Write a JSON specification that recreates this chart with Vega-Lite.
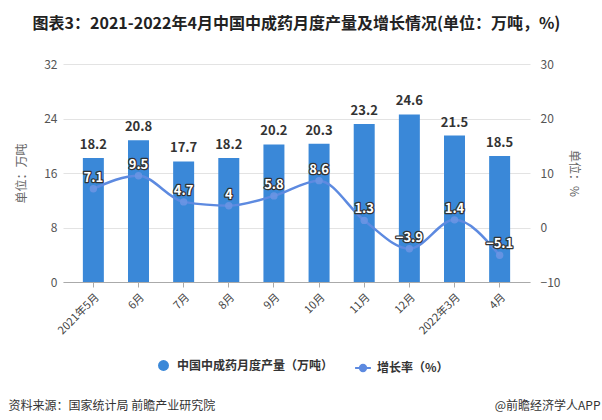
{
  "$schema": "https://vega.github.io/schema/vega-lite/v6.json",
  "autosize": "none",
  "width": 467,
  "height": 218,
  "padding": {"left": 63, "top": 64, "right": 72, "bottom": 138},
  "background": "white",
  "title": {
    "text": "图表3：2021-2022年4月中国中成药月度产量及增长情况(单位：万吨，%)",
    "font": "Noto Sans CJK SC",
    "fontSize": 16,
    "fontWeight": "bold",
    "color": "#222222",
    "anchor": "middle",
    "offset": 26
  },
  "config": {
    "font": "Noto Sans CJK SC",
    "view": {"stroke": null},
    "axis": {"labelFont": "Noto Sans CJK SC", "titleFont": "Noto Sans CJK SC"}
  },
  "data": {
    "values": [
      {"month": "2021年5月", "prod": 18.2, "growth": 7.1},
      {"month": "6月", "prod": 20.8, "growth": 9.5},
      {"month": "7月", "prod": 17.7, "growth": 4.7},
      {"month": "8月", "prod": 18.2, "growth": 4},
      {"month": "9月", "prod": 20.2, "growth": 5.8},
      {"month": "10月", "prod": 20.3, "growth": 8.6},
      {"month": "11月", "prod": 23.2, "growth": 1.3},
      {"month": "12月", "prod": 24.6, "growth": -3.9},
      {"month": "2022年3月", "prod": 21.5, "growth": 1.4},
      {"month": "4月", "prod": 18.5, "growth": -5.1}
    ]
  },
  "layer": [
    {
      "encoding": {
        "x": {
          "field": "month",
          "type": "nominal",
          "sort": null,
          "scale": {"paddingInner": 0.535, "paddingOuter": 0.44},
          "axis": {
            "title": "资料来源：国家统计局 前瞻产业研究院",
            "titleFont": "Noto Sans CJK SC",
            "titleFontSize": 12,
            "titleFontWeight": "normal",
            "titleColor": "#333333",
            "titleAnchor": "start",
            "titleAlign": "left",
            "titleBaseline": "middle",
            "titleX": -55,
            "titleY": 123,
            "labelAngle": -45,
            "labelFontSize": 11,
            "labelColor": "#444444",
            "labelPadding": 4,
            "domainColor": "#aaaaaa",
            "tickColor": "#aaaaaa",
            "tickSize": 5,
            "grid": false
          }
        }
      },
      "layer": [
        {
          "mark": {"type": "bar"},
          "encoding": {
            "y": {
              "field": "prod",
              "type": "quantitative",
              "scale": {"domain": [0, 32], "nice": false},
              "axis": {
                "title": "单位：万吨",
                "titleFontSize": 12,
                "titleFontWeight": "normal",
                "titleColor": "#666666",
                "titlePadding": 15,
                "values": [0, 8, 16, 24, 32],
                "labelFontSize": 12,
                "labelColor": "#555555",
                "labelPadding": 6,
                "ticks": false,
                "domain": false,
                "grid": true,
                "gridColor": "#e3e3e3"
              }
            },
            "fill": {
              "datum": "中国中成药月度产量（万吨）",
              "scale": {"range": ["#3a88d8"]},
              "legend": {
                "orient": "none",
                "legendX": 94,
                "legendY": 295,
                "title": null,
                "symbolType": "circle",
                "symbolSize": 120,
                "labelFontSize": 12,
                "labelFontWeight": "bold",
                "labelColor": "#333333",
                "labelOffset": 7
              }
            }
          }
        },
        {
          "mark": {"type": "text", "dy": -13, "baseline": "middle", "fontSize": 13, "fontWeight": "bold", "color": "#333333", "font": "Noto Sans CJK SC"},
          "encoding": {
            "y": {"field": "prod", "type": "quantitative", "scale": {"domain": [0, 32], "nice": false}},
            "text": {"field": "prod", "type": "quantitative", "format": ".1f"}
          }
        }
      ]
    },
    {
      "encoding": {
        "x": {"field": "month", "type": "nominal", "sort": null, "axis": null}
      },
      "layer": [
        {
          "mark": {"type": "line", "interpolate": "monotone", "strokeWidth": 2.5},
          "encoding": {
            "y": {
              "field": "growth",
              "type": "quantitative",
              "scale": {"domain": [-10, 30], "nice": false},
              "axis": {
                "orient": "right",
                "title": "单位：%",
                "titleFontSize": 12,
                "titleFontWeight": "normal",
                "titleColor": "#666666",
                "titlePadding": 7,
                "values": [-10, 0, 10, 20, 30],
                "labelFontSize": 12,
                "labelColor": "#555555",
                "labelPadding": 10,
                "ticks": false,
                "domain": false,
                "grid": false
              }
            },
            "stroke": {
              "datum": "增长率（%）",
              "scale": {"range": ["#5d8ae0"]},
              "legend": {
                "orient": "none",
                "legendX": 291,
                "legendY": 295,
                "title": null,
                "symbolType": "M-1,0L-0.4,0M0.4,0L1,0M-0.4,0A0.4,0.4 0 1,1 0.4,0A0.4,0.4 0 1,1 -0.4,0Z",
                "symbolSize": 250,
                "symbolStrokeWidth": 2,
                "symbolFillColor": "#5d8ae0",
                "labelFontSize": 12,
                "labelFontWeight": "bold",
                "labelColor": "#333333",
                "labelOffset": 5
              }
            }
          }
        },
        {
          "mark": {"type": "point", "filled": true, "size": 55, "color": "#6a95e3", "opacity": 0.9},
          "encoding": {
            "y": {"field": "growth", "type": "quantitative", "scale": {"domain": [-10, 30], "nice": false}}
          }
        },
        {
          "mark": {"type": "text", "dy": -11, "baseline": "middle", "fontSize": 13, "fontWeight": "bold", "color": "#ffffff", "stroke": "#333333", "strokeWidth": 2.5, "strokeJoin": "round", "font": "Noto Sans CJK SC"},
          "encoding": {
            "y": {"field": "growth", "type": "quantitative", "scale": {"domain": [-10, 30], "nice": false}},
            "text": {"field": "growth", "type": "quantitative"}
          }
        },
        {
          "mark": {"type": "text", "dy": -11, "baseline": "middle", "fontSize": 13, "fontWeight": "bold", "color": "#ffffff", "font": "Noto Sans CJK SC"},
          "encoding": {
            "y": {"field": "growth", "type": "quantitative", "scale": {"domain": [-10, 30], "nice": false}},
            "text": {"field": "growth", "type": "quantitative"}
          }
        }
      ]
    },
    {
      "mark": {"type": "rule", "opacity": 0},
      "encoding": {
        "x": {
          "field": "month",
          "type": "nominal",
          "sort": null,
          "axis": {
            "orient": "top",
            "title": "@前瞻经济学人APP",
            "titleFont": "Noto Sans CJK SC",
            "titleFontSize": 12,
            "titleFontWeight": "normal",
            "titleColor": "#333333",
            "titleAnchor": "end",
            "titleAlign": "right",
            "titleBaseline": "middle",
            "titleX": 537,
            "titleY": 341,
            "labels": false,
            "ticks": false,
            "domain": false,
            "grid": false
          }
        }
      }
    }
  ],
  "resolve": {"scale": {"y": "independent", "fill": "independent", "stroke": "independent"}, "axis": {"x": "independent"}}
}
